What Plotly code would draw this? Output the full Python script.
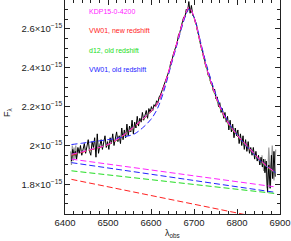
import plotly.graph_objects as go

# Flux in units of 1e-15
spec_wl = list(range(6415, 6890, 3))
spec_flux = [1.92, 1.98, 1.95, 1.97, 1.93, 1.99, 1.96, 2.00, 1.95, 1.98, 2.01, 1.96, 1.99, 2.03, 1.97, 1.95,
             2.02, 1.99, 2.04, 1.94, 2.06, 1.96, 2.00, 2.03, 1.98, 2.01, 2.05, 1.99, 2.02, 1.98, 2.04, 2.01,
             2.06, 2.00, 2.03, 2.07, 2.02, 2.05, 2.01, 2.09, 2.03, 2.08, 2.04, 2.11, 2.05, 2.10, 2.07, 2.13,
             2.06, 2.12, 2.09, 2.15, 2.10, 2.14, 2.12, 2.17, 2.13, 2.16, 2.18, 2.14, 2.19, 2.17, 2.20, 2.18,
             2.21, 2.20, 2.23, 2.22, 2.25, 2.26, 2.28, 2.30, 2.31, 2.34, 2.35, 2.38, 2.39, 2.43, 2.44, 2.47,
             2.49, 2.52, 2.53, 2.57, 2.58, 2.61, 2.63, 2.66, 2.66, 2.70, 2.69, 2.74, 2.68, 2.72, 2.67, 2.66,
             2.64, 2.62, 2.58, 2.56, 2.52, 2.50, 2.47, 2.45, 2.41, 2.40, 2.36, 2.36, 2.32, 2.32, 2.28, 2.29,
             2.24, 2.25, 2.20, 2.22, 2.17, 2.19, 2.14, 2.17, 2.12, 2.15, 2.08, 2.13, 2.07, 2.11, 2.04, 2.09,
             2.05, 2.08, 2.01, 2.06, 2.00, 2.05, 1.98, 2.03, 1.97, 2.02, 1.96, 1.99, 1.95, 1.99, 1.93, 1.97,
             1.92, 1.95, 1.90, 1.94, 1.89, 1.93, 1.86, 1.92, 1.76, 1.90, 1.78, 1.95, 1.83, 1.97, 1.84]

gray_wl_left = [6413, 6415, 6417, 6419, 6421, 6423, 6425, 6427, 6429]
gray_flux_left = [1.97, 1.90, 2.00, 1.92, 1.99, 1.93, 2.00, 1.94, 1.98]
gray_wl_right = [6858, 6862, 6866, 6870, 6874, 6878, 6882, 6886, 6890]
gray_flux_right = [1.95, 1.87, 1.93, 1.78, 1.99, 1.80, 2.00, 1.82, 1.98]

model_wl = [6415, 6440, 6460, 6480, 6500, 6520, 6540, 6560, 6580, 6600, 6615, 6630, 6645, 6660, 6670,
            6680, 6688, 6695, 6705, 6715, 6729, 6745, 6760, 6780, 6800, 6825, 6850, 6870, 6890]
model_magenta = [1.955, 1.968, 1.980, 1.990, 2.005, 2.030, 2.060, 2.095, 2.135, 2.175, 2.215, 2.300, 2.410,
                 2.525, 2.605, 2.675, 2.710, 2.690, 2.620, 2.525, 2.400, 2.290, 2.200, 2.115, 2.055, 1.995,
                 1.935, 1.893, 1.862]
model_red = [1.950, 1.965, 1.978, 1.990, 2.004, 2.028, 2.058, 2.093, 2.133, 2.175, 2.217, 2.302, 2.412,
             2.527, 2.607, 2.676, 2.708, 2.688, 2.618, 2.523, 2.398, 2.288, 2.198, 2.113, 2.053, 1.993,
             1.933, 1.891, 1.860]
model_green = [1.952, 1.966, 1.978, 1.989, 2.003, 2.027, 2.057, 2.092, 2.132, 2.172, 2.213, 2.297, 2.407,
               2.522, 2.602, 2.672, 2.706, 2.686, 2.616, 2.520, 2.395, 2.284, 2.195, 2.110, 2.050, 1.990,
               1.930, 1.888, 1.858]
model_blue = [2.005, 2.012, 2.018, 2.024, 2.030, 2.037, 2.046, 2.058, 2.090, 2.135, 2.190, 2.280, 2.400,
              2.515, 2.595, 2.665, 2.700, 2.685, 2.625, 2.535, 2.415, 2.300, 2.210, 2.120, 2.055, 1.990,
              1.930, 1.890, 1.860]

cont_wl = [6415, 6890]
cont_magenta = [1.930, 1.787]
cont_blue = [1.912, 1.759]
cont_green = [1.870, 1.753]
cont_red = [1.826, 1.613]

labels = ["KDP15-0-4200", "VW01, new redshift", "d12, old redshift", "VW01, old redshift"]
label_colors = ["#ff22ff", "#ff2222", "#22dd22", "#2222ff"]

ytick_vals = [1.8, 2.0, 2.2, 2.4, 2.6]
ytick_text = ["1.8×10<sup>−15</sup>", "2×10<sup>−15</sup>", "2.2×10<sup>−15</sup>",
              "2.4×10<sup>−15</sup>", "2.6×10<sup>−15</sup>"]

MAG, RED, GRN, BLU = label_colors
DASH = "6px,3px"
FONT = "Liberation Sans, Arial, sans-serif"

fig = go.Figure()
fig.add_trace(go.Scatter(x=gray_wl_left, y=gray_flux_left, mode="lines",
                         line=dict(color="#999999", width=1.2)))
fig.add_trace(go.Scatter(x=gray_wl_right, y=gray_flux_right, mode="lines",
                         line=dict(color="#999999", width=1.2)))
fig.add_trace(go.Scatter(x=spec_wl, y=spec_flux, mode="lines",
                         line=dict(color="black", width=1)))
for yy, c in [(cont_magenta, MAG), (cont_blue, BLU), (cont_green, GRN), (cont_red, RED)]:
    fig.add_trace(go.Scatter(x=cont_wl, y=yy, mode="lines",
                             line=dict(color=c, width=1, dash=DASH)))
for yy, c in [(model_green, GRN), (model_blue, BLU), (model_red, RED), (model_magenta, MAG)]:
    fig.add_trace(go.Scatter(x=model_wl, y=yy, mode="lines", line_shape="spline",
                             line=dict(color=c, width=1, dash=DASH)))

ann = []
ys = [0.945, 0.857, 0.763, 0.673]
for t, c, y in zip(labels, label_colors, ys):
    ann.append(dict(x=0.102, y=y, xref="paper", yref="paper", text=t, showarrow=False,
                    xanchor="left", yanchor="middle", font=dict(size=7, color=c, family=FONT)))
ann.append(dict(x=-0.265, y=0.477, xref="paper", yref="paper", text="F<sub>λ</sub>",
                showarrow=False, textangle=-90, xanchor="center", yanchor="middle",
                font=dict(size=9, color="#222222", family=FONT)))
ann.append(dict(x=0.5, y=-0.093, xref="paper", yref="paper", text="λ<sub>obs</sub>",
                showarrow=False, xanchor="center", yanchor="middle",
                font=dict(size=9, color="#222222", family=FONT)))

axis_common = dict(showline=True, linecolor="#222222", linewidth=1, mirror="allticks",
                   ticks="inside", tickcolor="#222222", showgrid=False, zeroline=False,
                   tickfont=dict(size=9.5, color="#222222", family=FONT))

fig.update_layout(
    width=291, height=241, margin=dict(l=65, r=11, t=0, b=27),
    paper_bgcolor="white", plot_bgcolor="white", showlegend=False,
    annotations=ann,
    xaxis=dict(range=[6400, 6900], tickvals=[6400, 6500, 6600, 6700, 6800, 6900], ticklen=5,
               minor=dict(dtick=20, ticklen=3, ticks="inside", tickcolor="#222222"),
               **axis_common),
    yaxis=dict(range=[1.648, 2.748], tickvals=ytick_vals, ticktext=ytick_text, ticklen=5,
               minor=dict(dtick=0.05, tick0=1.8, ticklen=3, ticks="inside", tickcolor="#222222"),
               **axis_common),
)
fig.write_html("out.html", config={"displayModeBar": False},
               post_script="document.body.style.margin='0';document.body.style.overflow='hidden';")
